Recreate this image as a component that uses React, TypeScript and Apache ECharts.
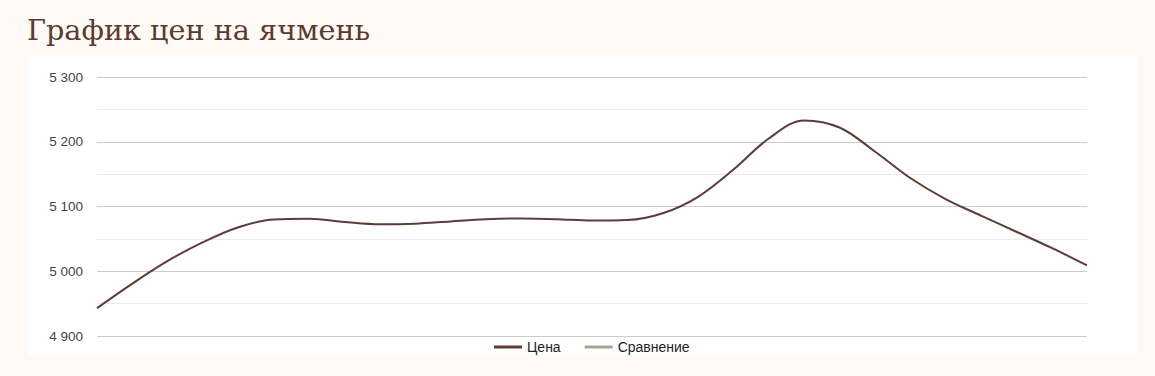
import React, { useEffect, useRef } from "react";
import * as echarts from "echarts";

const categories = Array.from({ length: 29 }, (_, i) => String(i + 1));
const priceValues = [
  4943, 4981, 5016, 5045, 5068, 5080, 5081, 5076, 5072.5, 5073.5,
  5077, 5080.2, 5081.6, 5080.5, 5078.2, 5079, 5089.5, 5115, 5157, 5205,
  5233, 5222, 5185, 5144, 5111.5, 5086, 5061, 5036, 5009,
];
const compareValues: (number | null)[] = [];
const yTicks = { min: 4900, max: 5300, interval: 100 };
const titleText = "График цен на ячмень";
const seriesNames = ["Цена", "Сравнение"];

const fmt = (v: number) => String(v).replace(/\B(?=(\d{3})+(?!\d))/g, " ");

export default function App() {
  const ref = useRef<HTMLDivElement>(null);
  useEffect(() => {
    document.body.style.margin = "0";
    const chart = echarts.init(ref.current!, null, { renderer: "svg" });
    chart.setOption({
      animation: false,
      backgroundColor: "#fffaf6",
      graphic: [
        {
          type: "rect",
          z: -10,
          silent: true,
          shape: { x: 28, y: 56, width: 1109, height: 299 },
          style: { fill: "#ffffff" },
        },
      ],
      title: {
        text: titleText,
        left: 22,
        top: 10,
        textStyle: {
          fontFamily: "DejaVu Serif",
          fontSize: 28.7,
          fontWeight: "normal",
          color: "#5b3a2f",
        },
      },
      legend: {
        bottom: 17,
        left: 489,
        icon: "rect",
        itemWidth: 28,
        itemHeight: 3,
        itemGap: 24,
        textStyle: { fontFamily: "Arial, Liberation Sans", fontSize: 14, color: "#222" },
        data: seriesNames,
      },
      grid: { left: 97, right: 68, top: 77, bottom: 40 },
      xAxis: {
        type: "category",
        data: categories,
        boundaryGap: false,
        axisLine: { show: false },
        axisTick: { show: false },
        axisLabel: { show: false },
      },
      yAxis: {
        type: "value",
        min: yTicks.min,
        max: yTicks.max,
        interval: yTicks.interval,
        axisLabel: {
          formatter: fmt,
          fontFamily: "Arial, Liberation Sans",
          fontSize: 13.5,
          color: "#444",
          margin: 14,
        },
        splitLine: { lineStyle: { color: "#cccccc", width: 1 } },
        minorTick: { show: false, splitNumber: 2 },
        minorSplitLine: { show: true, lineStyle: { color: "#ebebeb", width: 1 } },
      },
      series: [
        {
          name: seriesNames[0],
          type: "line",
          data: priceValues,
          smooth: 0.35,
          showSymbol: false,
          symbol: "none",
          color: "#5c3d37",
          lineStyle: { width: 2, color: "#5c3d37" },
        },
        {
          name: seriesNames[1],
          type: "line",
          data: compareValues,
          showSymbol: false,
          symbol: "none",
          color: "#a3a690",
          lineStyle: { width: 2, color: "#a3a690" },
        },
      ],
    });
    return () => chart.dispose();
  }, []);
  return <div ref={ref} style={{ width: 1155, height: 376 }} />;
}
